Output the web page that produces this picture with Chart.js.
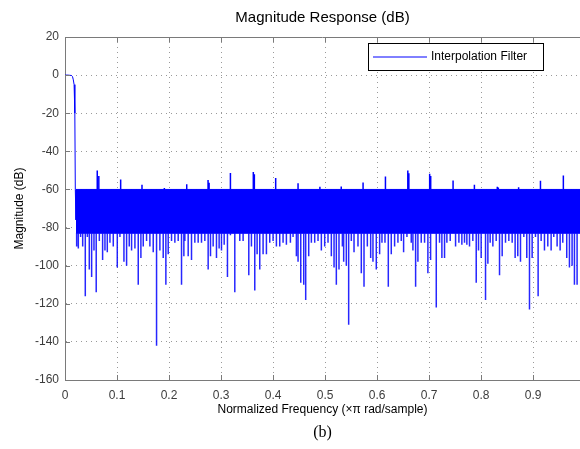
<!DOCTYPE html>
<html>
<head>
<meta charset="utf-8">
<script src="https://cdn.jsdelivr.net/npm/chart.js@4.4.1/dist/chart.umd.min.js"></script>
<style>
html, body { margin: 0; padding: 0; background: #fff; }
</style>
</head>
<body>
<canvas id="chart" width="580" height="449"></canvas>
<script>
// axis ticks
const xTicks = [0, 0.1, 0.2, 0.3, 0.4, 0.5, 0.6, 0.7, 0.8, 0.9];
const yTicks = [20, 0, -20, -40, -60, -80, -100, -120, -140, -160];

// passband and transition edge
const passFreq = [0, 0.006, 0.0125, 0.0145, 0.016, 0.0175, 0.0186, 0.0192, 0.0198, 0.0211];
const passMag = [0, 0, -0.2, -0.8, -2.5, -5, -10, -20, -60, -76];

// dense stopband ripple (solid band)
const bandFreq = [0.0211, 0.99];
const bandTop = [-60, -60];
const bandBottom = [-83, -83];

// upward spikes above the band
const upFreq = [0.062, 0.065, 0.107, 0.148, 0.191, 0.234, 0.275, 0.277, 0.318, 0.362, 0.364, 0.405, 0.448,
  0.490, 0.531, 0.573, 0.616, 0.659, 0.661, 0.701, 0.703, 0.746, 0.787, 0.831, 0.833, 0.872, 0.914, 0.958];
const upPeak = [-50, -53, -54.8, -57.5, -59.3, -57.3, -55, -56.5, -51.4, -50.9, -52, -54, -56.7,
  -58.6, -58.4, -56.3, -53.2, -50, -51.5, -51.7, -53, -55.3, -57.5, -58.6, -59, -58.8, -55.5, -52.7];

// downward dips below the band
const dipFreq = [0.0224, 0.0256, 0.030, 0.034, 0.039, 0.043, 0.0467, 0.0512, 0.0557, 0.060, 0.066, 0.0723,
  0.0768, 0.0813, 0.0864, 0.0928, 0.1005, 0.1056, 0.1133, 0.1184, 0.1235, 0.128, 0.1344, 0.1408, 0.1459,
  0.1504, 0.1568, 0.1632, 0.1696, 0.176, 0.1824, 0.1888, 0.1939, 0.1984, 0.2048, 0.2112, 0.2176, 0.224,
  0.2285, 0.2304, 0.2368, 0.2432, 0.2496, 0.256, 0.2624, 0.2688, 0.2752, 0.2797, 0.2848, 0.2912, 0.2963,
  0.3008, 0.306, 0.3123, 0.318, 0.3264, 0.336, 0.3424, 0.3533, 0.3584, 0.3648, 0.3693, 0.3744, 0.3808,
  0.3872, 0.3936, 0.400, 0.4064, 0.4128, 0.4192, 0.4256, 0.4333, 0.4384, 0.4448, 0.448, 0.4532, 0.4589,
  0.4627, 0.4685, 0.4736, 0.480, 0.4864, 0.4928, 0.4992, 0.5056, 0.512, 0.5172, 0.5216, 0.5267, 0.5332,
  0.5357, 0.5408, 0.5453, 0.5504, 0.5556, 0.5632, 0.5696, 0.5748, 0.5812, 0.5876, 0.592, 0.5984, 0.6048,
  0.6093, 0.6151, 0.6215, 0.6272, 0.6336, 0.640, 0.6464, 0.6509, 0.6573, 0.6656, 0.6688, 0.674, 0.6784,
  0.6848, 0.6912, 0.6976, 0.7028, 0.7137, 0.720, 0.7245, 0.7296, 0.7341, 0.7405, 0.7508, 0.7572, 0.7629,
  0.768, 0.7725, 0.7776, 0.784, 0.7905, 0.7949, 0.800, 0.8084, 0.8129, 0.8173, 0.8225, 0.8289, 0.8353,
  0.8404, 0.8468, 0.8532, 0.8596, 0.8653, 0.8704, 0.8756, 0.882, 0.8877, 0.8929, 0.898, 0.9044, 0.9095,
  0.9153, 0.9217, 0.9281, 0.9345, 0.9396, 0.946, 0.9518, 0.9569, 0.9645, 0.9697, 0.9748, 0.9793, 0.9844];
const dipMag = [-90, -91, -85, -90, -116, -85, -102, -106, -92, -114, -87, -97,
  -92, -93, -88, -90, -101, -85, -98, -100, -90, -92, -91, -110, -96,
  -90, -87, -90, -93, -142, -92, -96, -110, -94, -87, -88, -87, -110,
  -95, -87, -95, -97, -88, -88, -88, -87, -102, -95, -90, -96, -91,
  -92, -89, -106, -84, -114, -87, -87, -105, -90, -113, -94, -102, -94,
  -94, -88, -87, -90, -90, -88, -89, -88, -85, -95, -98, -109, -110,
  -118, -95, -88, -88, -87, -92, -90, -88, -95, -101, -110, -102, -90,
  -98, -100, -131, -87, -93, -90, -104, -111, -90, -96, -98, -102, -94,
  -88, -88, -111, -94, -90, -88, -87, -93, -85, -88, -92, -111, -98,
  -88, -88, -104, -97, -122, -88, -96, -96, -88, -87, -90, -88, -89,
  -88, -89, -90, -87, -109, -92, -96, -118, -99, -88, -90, -87, -105,
  -95, -88, -87, -88, -96, -95, -98, -85, -96, -123, -96, -85, -116,
  -87, -92, -90, -92, -85, -90, -92, -88, -96, -101, -100, -110, -110];

const blue = 'rgb(0, 0, 255)';
const axisGray = '#7a7a7a';
const textGray = '#3c3c3c';

function pairs(xs, ys) {
  return xs.map((x, i) => ({ x: x, y: ys[i] }));
}

// vertical sticks from a base level to each value, broken by gaps
function sticks(xs, ys, base) {
  let pts = [];
  xs.forEach((x, i) => {
    pts.push({ x: x, y: base });
    pts.push({ x: x, y: ys[i] });
    pts.push({ x: x, y: null });
  });
  return pts;
}

// matlab style frame: top border, inward ticks, titles, legend
const matlabFrame = {
  id: 'matlabFrame',
  afterDraw(chart) {
    const ctx = chart.ctx;
    const area = chart.chartArea;
    const xs = chart.scales.x;
    const ys = chart.scales.y;
    ctx.save();
    ctx.strokeStyle = axisGray;
    ctx.lineWidth = 1;
    ctx.beginPath();
    const top = Math.round(area.top) + 0.5;
    ctx.moveTo(area.left, top);
    ctx.lineTo(area.right, top);
    xTicks.forEach(v => {
      const px = Math.round(xs.getPixelForValue(v)) + 0.5;
      ctx.moveTo(px, area.bottom);
      ctx.lineTo(px, area.bottom - 5);
      ctx.moveTo(px, area.top);
      ctx.lineTo(px, area.top + 5);
    });
    yTicks.forEach(v => {
      const py = Math.round(ys.getPixelForValue(v)) + 0.5;
      ctx.moveTo(area.left, py);
      ctx.lineTo(area.left + 5, py);
    });
    ctx.stroke();

    // legend
    const lx = 368, ly = 43, lw = 175, lh = 27;
    ctx.fillStyle = '#fff';
    ctx.fillRect(lx, ly, lw, lh);
    ctx.strokeStyle = '#000';
    ctx.strokeRect(lx + 0.5, ly + 0.5, lw, lh);
    ctx.strokeStyle = blue;
    ctx.beginPath();
    ctx.moveTo(lx + 5, ly + 14);
    ctx.lineTo(lx + 59, ly + 14);
    ctx.stroke();
    ctx.fillStyle = '#000';
    ctx.font = '12px "Liberation Sans", Arial, sans-serif';
    ctx.textBaseline = 'middle';
    ctx.textAlign = 'left';
    ctx.fillText(chart.data.datasets[0].label, lx + 63, ly + 14);

    // titles
    const cx = (area.left + area.right) / 2;
    ctx.fillStyle = '#000';
    ctx.textAlign = 'center';
    ctx.font = '15px "Liberation Sans", Arial, sans-serif';
    ctx.fillText('Magnitude Response (dB)', cx, 18);
    ctx.font = '12px "Liberation Sans", Arial, sans-serif';
    ctx.fillText('Normalized Frequency (\u00d7\u03c0 rad/sample)', cx, 410);
    ctx.font = '16px "Liberation Serif", "Times New Roman", serif';
    ctx.fillText('(b)', cx, 433);
    ctx.save();
    ctx.translate(20, (area.top + area.bottom) / 2);
    ctx.rotate(-Math.PI / 2);
    ctx.font = '12px "Liberation Sans", Arial, sans-serif';
    ctx.fillText('Magnitude (dB)', 0, 0);
    ctx.restore();
    ctx.restore();
  }
};

const ctx = document.getElementById('chart').getContext('2d');
const chart = new Chart(ctx, {
  type: 'line',
  data: {
    datasets: [{
      label: 'Interpolation Filter',
      data: pairs(passFreq, passMag),
      borderColor: blue,
      borderWidth: 1,
      fill: false
    }, {
      label: 'band top',
      data: pairs(bandFreq, bandTop),
      borderColor: blue,
      borderWidth: 1,
      fill: false
    }, {
      label: 'band bottom',
      data: pairs(bandFreq, bandBottom),
      borderColor: blue,
      borderWidth: 1,
      backgroundColor: blue,
      fill: '-1'
    }, {
      label: 'dips',
      data: sticks(dipFreq, dipMag, bandBottom[0]),
      borderColor: 'rgba(0, 0, 255, 0.85)',
      borderWidth: 1.5,
      spanGaps: false,
      fill: false
    }, {
      label: 'peaks',
      data: sticks(upFreq, upPeak, bandTop[0]),
      borderColor: blue,
      borderWidth: 1.5,
      spanGaps: false,
      fill: false
    }]
  },
  options: {
    responsive: false,
    animation: false,
    layout: { padding: { top: 37, right: 0, bottom: 0, left: 0 } },
    elements: { point: { radius: 0 }, line: { tension: 0 } },
    plugins: {
      legend: { display: false },
      tooltip: { enabled: false },
      title: { display: false }
    },
    scales: {
      x: {
        type: 'linear',
        min: 0,
        max: 0.99,
        afterBuildTicks: s => { s.ticks = xTicks.map(v => ({ value: v })); },
        afterFit: s => { s.height = 69; },
        grid: { color: '#9a9a9a', drawTicks: false },
        border: { color: axisGray, width: 1, dash: [1, 4] },
        ticks: {
          padding: 8,
          color: textGray,
          maxRotation: 0,
          autoSkip: false,
          font: { family: '"Liberation Sans", Arial, sans-serif', size: 12 },
          callback: v => String(v)
        }
      },
      y: {
        type: 'linear',
        min: -160,
        max: 20,
        afterBuildTicks: s => { s.ticks = yTicks.map(v => ({ value: v })); },
        afterFit: s => { s.width = 65; },
        grid: { color: '#9a9a9a', drawTicks: false },
        border: { color: axisGray, width: 1, dash: [1, 4] },
        ticks: {
          padding: 6,
          color: textGray,
          autoSkip: false,
          font: { family: '"Liberation Sans", Arial, sans-serif', size: 12 },
          callback: v => String(v)
        }
      }
    }
  },
  plugins: [matlabFrame]
});
</script>
</body>
</html>
